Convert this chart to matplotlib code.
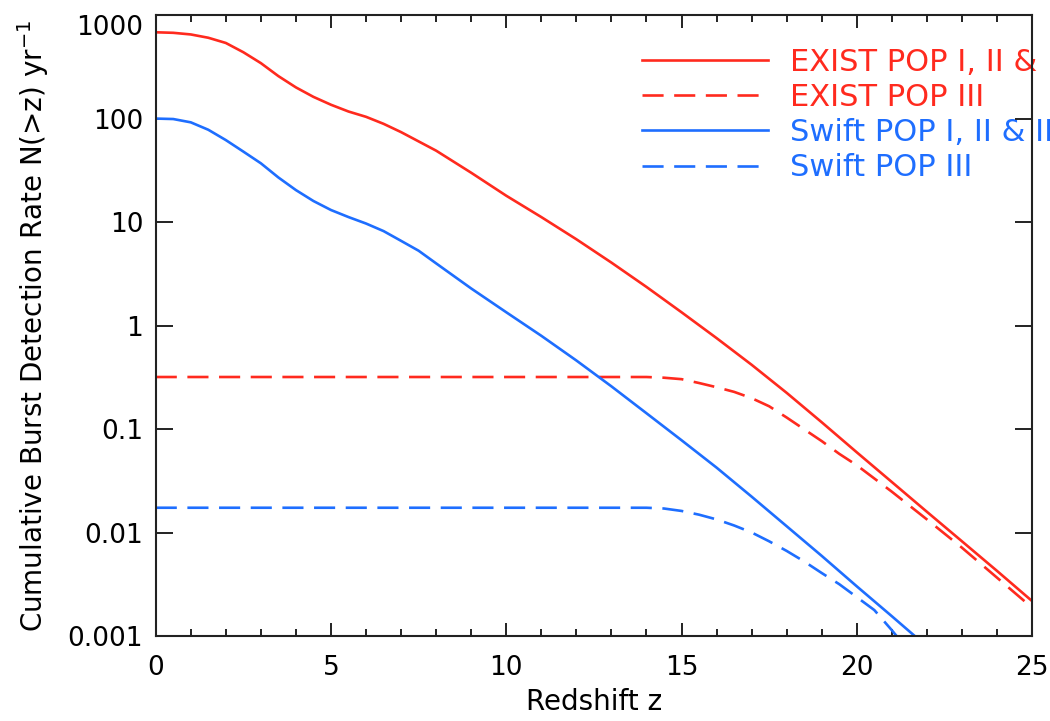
import numpy as np
import matplotlib
matplotlib.use("Agg")
import matplotlib.pyplot as plt

plt.rcParams["font.family"] = ["DejaVu Sans"]

# values
z_exist = [0, 0.5, 1, 1.5, 2, 2.5, 3, 3.5, 4, 4.5, 5, 5.5, 6, 6.5, 7, 8, 9, 10,
           11, 12, 13, 14, 15, 16, 17, 18, 19, 20, 21, 22, 23, 24, 25]
n_exist = [681, 673, 649, 603, 537, 437, 343, 257, 200, 162, 136, 117, 104, 89,
           74, 49, 30, 18, 11.2, 6.84, 4.07, 2.37, 1.35, 0.76, 0.42, 0.225,
           0.117, 0.060, 0.031, 0.016, 0.0083, 0.0043, 0.0022]

z_exist3 = [0, 5, 10, 13, 14, 14.5, 15, 15.5, 16, 16.5, 17, 17.5, 18, 18.5, 19,
            19.5, 20, 21, 22, 23, 24, 25]
n_exist3 = [0.32, 0.32, 0.32, 0.32, 0.32, 0.315, 0.305, 0.28, 0.255, 0.23, 0.20,
            0.167, 0.13, 0.10, 0.077, 0.058, 0.045, 0.025, 0.0135, 0.0072,
            0.0037, 0.0019]

z_swift = [0, 0.5, 1, 1.5, 2, 2.5, 3, 3.5, 4, 4.5, 5, 5.5, 6, 6.5, 7, 7.5, 8, 9,
           10, 11, 12, 13, 14, 15, 16, 17, 18, 19, 20, 21, 21.7]
n_swift = [100, 99, 92, 78, 62, 48, 37, 27, 20.4, 16, 13.1, 11.2, 9.7, 8.2, 6.6,
           5.3, 4.0, 2.29, 1.35, 0.80, 0.462, 0.26, 0.143, 0.0785, 0.0427,
           0.0224, 0.0116, 0.006, 0.00305, 0.00157, 0.00098]

z_swift3 = [0, 5, 10, 14, 14.5, 15, 15.5, 16, 16.5, 17, 17.5, 18, 18.5, 19, 19.5,
            20, 20.5, 21, 21.2]
n_swift3 = [0.0175, 0.0175, 0.0175, 0.0175, 0.0172, 0.0163, 0.015, 0.0135,
            0.0118, 0.0101, 0.0083, 0.0067, 0.0053, 0.0041, 0.0032, 0.0024,
            0.0018, 0.00115, 0.00095]

labels = ["EXIST POP I, II & III", "EXIST POP III",
          "Swift POP I, II & III", "Swift POP III"]
red = "#ff2a1e"
blue = "#1e6eff"

fig = plt.figure(figsize=(10.5, 7.21), dpi=100)
ax = fig.add_axes([0.1483, 0.1172, 0.8346, 0.862])

lw = 1.9
dash = (0, (8, 4))
ax.plot(z_exist, n_exist, color=red, lw=lw, label=labels[0])
ax.plot(z_exist3, n_exist3, color=red, lw=lw, ls=dash, label=labels[1])
ax.plot(z_swift, n_swift, color=blue, lw=lw, label=labels[2])
ax.plot(z_swift3, n_swift3, color=blue, lw=lw, ls=dash, label=labels[3])

ax.set_yscale("log")
ax.set_xlim(0, 25)
ax.set_ylim(0.001, 1000)
ax.set_xticks([0, 5, 10, 15, 20, 25])
ax.set_xticks(np.arange(0, 26, 1), minor=True)
ax.set_yticks([0.001, 0.01, 0.1, 1, 10, 100, 1000])
ax.set_yticklabels(["0.001", "0.01", "0.1", "1", "10", "100", "1000"])
ax.yaxis.set_minor_locator(matplotlib.ticker.NullLocator())
ax.tick_params(axis="both", which="both", direction="in", top=True, right=True,
               labelsize=19, width=1.4, color="#222222")
ax.tick_params(axis="x", which="major", length=9.5, pad=13)
ax.tick_params(axis="x", which="minor", length=5)
ax.tick_params(axis="y", which="major", length=12, pad=9)
ax.get_yticklabels()[-1].set_va("top")
for s in ax.spines.values():
    s.set_linewidth(1.5)
    s.set_color("#222222")

ax.set_xlabel("Redshift z", fontsize=20)
ax.xaxis.set_label_coords(0.5, -0.083)
ax.set_ylabel("Cumulative Burst Detection Rate N(>z) yr$^{-1}$", fontsize=20)
ax.yaxis.set_label_coords(-0.12, 0.5)

# legend runs past the right edge, as in the original
leg = ax.legend(loc="upper left", bbox_to_anchor=(0.555, 0.947), frameon=False,
                fontsize=22, handlelength=4.12, handletextpad=0.72,
                labelspacing=0.2, borderpad=0, borderaxespad=0)
leg.set_zorder(1)
for t, c in zip(leg.get_texts(), [red, red, blue, blue]):
    t.set_color(c)

fig.savefig("out.png", dpi=100)
